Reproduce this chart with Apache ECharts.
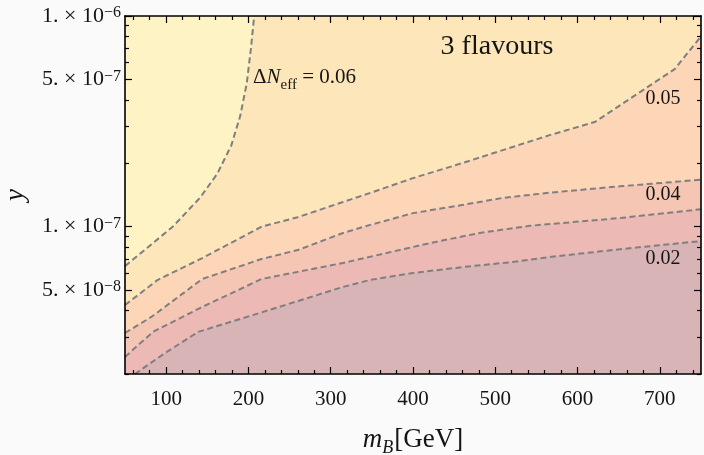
<!DOCTYPE html>
<html><head><meta charset="utf-8">
<script src="https://cdn.jsdelivr.net/npm/echarts@6/dist/echarts.min.js"></script>
<style>html,body{margin:0;padding:0;background:#fafafa}#c{width:704px;height:455px}</style>
</head><body><div id="c"></div><script>
const xMin = 50, xMax = 750;
const yMin = 2e-8, yMax = 1e-6;
const xTickLabels = [100, 200, 300, 400, 500, 600, 700];
const xMinorTicks = [60, 80, 120, 140, 160, 180, 220, 240, 260, 280, 320, 340, 360, 380, 420, 440, 460, 480, 520, 540, 560, 580, 620, 640, 660, 680, 720, 740];
const yTickLabels = [5e-8, 1e-7, 5e-7, 1e-6];
const yMinorTicks = [2e-8, 3e-8, 4e-8, 6e-8, 7e-8, 8e-8, 9e-8, 2e-7, 3e-7, 4e-7, 6e-7, 7e-7, 8e-7, 9e-7];

const contour006 = [[50, 6.5e-8], [108, 1.0e-7], [141, 1.37e-7], [162, 1.78e-7], [179, 2.42e-7], [190, 3.35e-7], [198, 4.8e-7], [203, 7.0e-7], [207, 1e-6]];
const contour005 = [[50, 4.25e-8], [90, 5.6e-8], [144, 7.1e-8], [216, 1.0e-7], [260, 1.11e-7], [315, 1.31e-7], [351, 1.46e-7], [400, 1.70e-7], [461, 2.01e-7], [521, 2.39e-7], [566, 2.72e-7], [621, 3.14e-7], [718, 5.6e-7], [750, 8.0e-7]];
const contour004 = [[50, 3.13e-8], [82, 3.73e-8], [144, 5.65e-8], [216, 7.03e-8], [260, 7.75e-8], [315, 9.34e-8], [348, 1.02e-7], [400, 1.16e-7], [461, 1.27e-7], [509, 1.37e-7], [566, 1.45e-7], [655, 1.56e-7], [750, 1.67e-7]];
const contour003 = [[50, 2.41e-8], [84, 3.17e-8], [141, 4.11e-8], [216, 5.65e-8], [315, 6.73e-8], [421, 8.37e-8], [481, 9.34e-8], [542, 1.01e-7], [652, 1.10e-7], [750, 1.21e-7]];
const contour002 = [[62, 2.0e-8], [99, 2.52e-8], [139, 3.17e-8], [214, 3.90e-8], [315, 5.18e-8], [348, 5.59e-8], [400, 6.03e-8], [461, 6.44e-8], [521, 6.80e-8], [566, 7.18e-8], [654, 7.84e-8], [750, 8.55e-8]];

const contours = [contour006, contour005, contour004, contour003, contour002];
const regionColors = ['#fde6b9', '#fdd6b8', '#f6c6b5', '#edb9b5', '#d8b4b7'];
const topRegionColor = '#fef3c5';

const FONT = '"Liberation Serif", "Times New Roman", serif';
const INK = '#151515';

const chart = echarts.init(document.getElementById('c'), null, {renderer: 'canvas'});

function xAxisDef(pos, major) {
  return {
    type: 'value', position: pos, min: xMin, max: xMax, z: 10,
    axisLine: {show: major, onZero: false, lineStyle: {color: '#000', width: 1.6}},
    splitLine: {show: false},
    axisTick: {show: true, inside: true, length: major ? 7 : 4, lineStyle: {color: '#000', width: 1.2},
      customValues: major ? xTickLabels : xMinorTicks},
    axisLabel: (major && pos === 'bottom') ? {show: true, customValues: xTickLabels, margin: 15,
      fontSize: 21, fontFamily: FONT, color: INK} : {show: false}
  };
}
function yLabel(v) {
  const e = Math.floor(Math.log10(v) + 1e-9);
  const m = Math.round(v / Math.pow(10, e));
  return '{m|' + m + '. × 10}{s|\u2212' + (-e) + '}';
}
function yAxisDef(pos, major) {
  return {
    type: 'log', logBase: 10, position: pos, min: yMin, max: yMax, z: 10,
    axisLine: {show: major, onZero: false, lineStyle: {color: '#000', width: 1.6}},
    splitLine: {show: false}, minorTick: {show: false},
    axisTick: {show: true, inside: true, length: major ? 7 : 4, lineStyle: {color: '#000', width: 1.2},
      customValues: major ? yTickLabels : yMinorTicks},
    axisLabel: (major && pos === 'left') ? {show: true, customValues: yTickLabels, margin: 4,
      formatter: yLabel,
      rich: {
        m: {fontSize: 22, fontFamily: FONT, color: INK, lineHeight: 22, verticalAlign: 'bottom'},
        s: {fontSize: 16, fontFamily: FONT, color: INK, lineHeight: 16, padding: [0, 0, 10, 0], verticalAlign: 'top'}
      }} : {show: false}
  };
}

const series = [];
contours.forEach((c, i) => {
  const fillData = i === 0 ? c.concat([[xMax, yMax]]) : c;
  series.push({
    type: 'line', data: fillData, symbol: 'none', silent: true, z: 1,
    lineStyle: {width: 0, opacity: 0},
    areaStyle: {color: regionColors[i], opacity: 1, origin: 'start'}
  });
});
contours.forEach((c) => {
  series.push({
    type: 'line', data: c, symbol: 'none', silent: true, z: 3,
    lineStyle: {color: '#7f7f7f', width: 2, type: [6, 3.5]}
  });
});

chart.setOption({
  backgroundColor: '#fafafa',
  animation: false,
  grid: {left: 125, right: 3, top: 16, bottom: 81, show: true, backgroundColor: topRegionColor, borderWidth: 0},
  xAxis: [xAxisDef('bottom', true), xAxisDef('bottom', false), xAxisDef('top', true), xAxisDef('top', false)],
  yAxis: [yAxisDef('left', true), yAxisDef('left', false), yAxisDef('right', true), yAxisDef('right', false)],
  series: series,
  graphic: [
    {type: 'text', x: 497, y: 47, z: 10, style: {text: '3 flavours', fontSize: 28, fontFamily: FONT, fill: INK, align: 'center', verticalAlign: 'middle'}},
    {type: 'text', x: 253, y: 79, z: 10, style: {
      text: '{r|\u0394}{i|N}{s|eff}{r| = 0.06}', align: 'left', verticalAlign: 'middle',
      rich: {
        r: {fontSize: 21, fontFamily: FONT, fill: INK, lineHeight: 24, verticalAlign: 'top'},
        i: {fontSize: 21, fontFamily: FONT, fontStyle: 'italic', fill: INK, lineHeight: 24, verticalAlign: 'top'},
        s: {fontSize: 15, fontFamily: FONT, fill: INK, lineHeight: 15, padding: [11, 0, 0, 0], verticalAlign: 'top'}
      }}},
    {type: 'text', x: 663, y: 98.5, z: 10, style: {text: '0.05', fontSize: 20, fontFamily: FONT, fill: INK, align: 'center', verticalAlign: 'middle'}},
    {type: 'text', x: 663, y: 194.5, z: 10, style: {text: '0.04', fontSize: 20, fontFamily: FONT, fill: INK, align: 'center', verticalAlign: 'middle'}},
    {type: 'text', x: 663, y: 258.5, z: 10, style: {text: '0.02', fontSize: 20, fontFamily: FONT, fill: INK, align: 'center', verticalAlign: 'middle'}},
    {type: 'text', x: 413, y: 440, z: 10, style: {
      text: '{i|m}{s|B}{r|[GeV]}', align: 'center', verticalAlign: 'middle',
      rich: {
        i: {fontSize: 27, fontFamily: FONT, fontStyle: 'italic', fill: INK, lineHeight: 28, verticalAlign: 'top'},
        s: {fontSize: 18, fontFamily: FONT, fontStyle: 'italic', fill: INK, lineHeight: 18, padding: [13, 1, 0, 0], verticalAlign: 'top'},
        r: {fontSize: 27, fontFamily: FONT, fill: INK, lineHeight: 28, verticalAlign: 'top'}
      }}},
    {type: 'text', x: 16, y: 195, rotation: Math.PI / 2, z: 10, style: {text: 'y', fontSize: 27, fontFamily: FONT, fontStyle: 'italic', fill: INK, align: 'center', verticalAlign: 'middle'}}
  ]
});
</script></body></html>
